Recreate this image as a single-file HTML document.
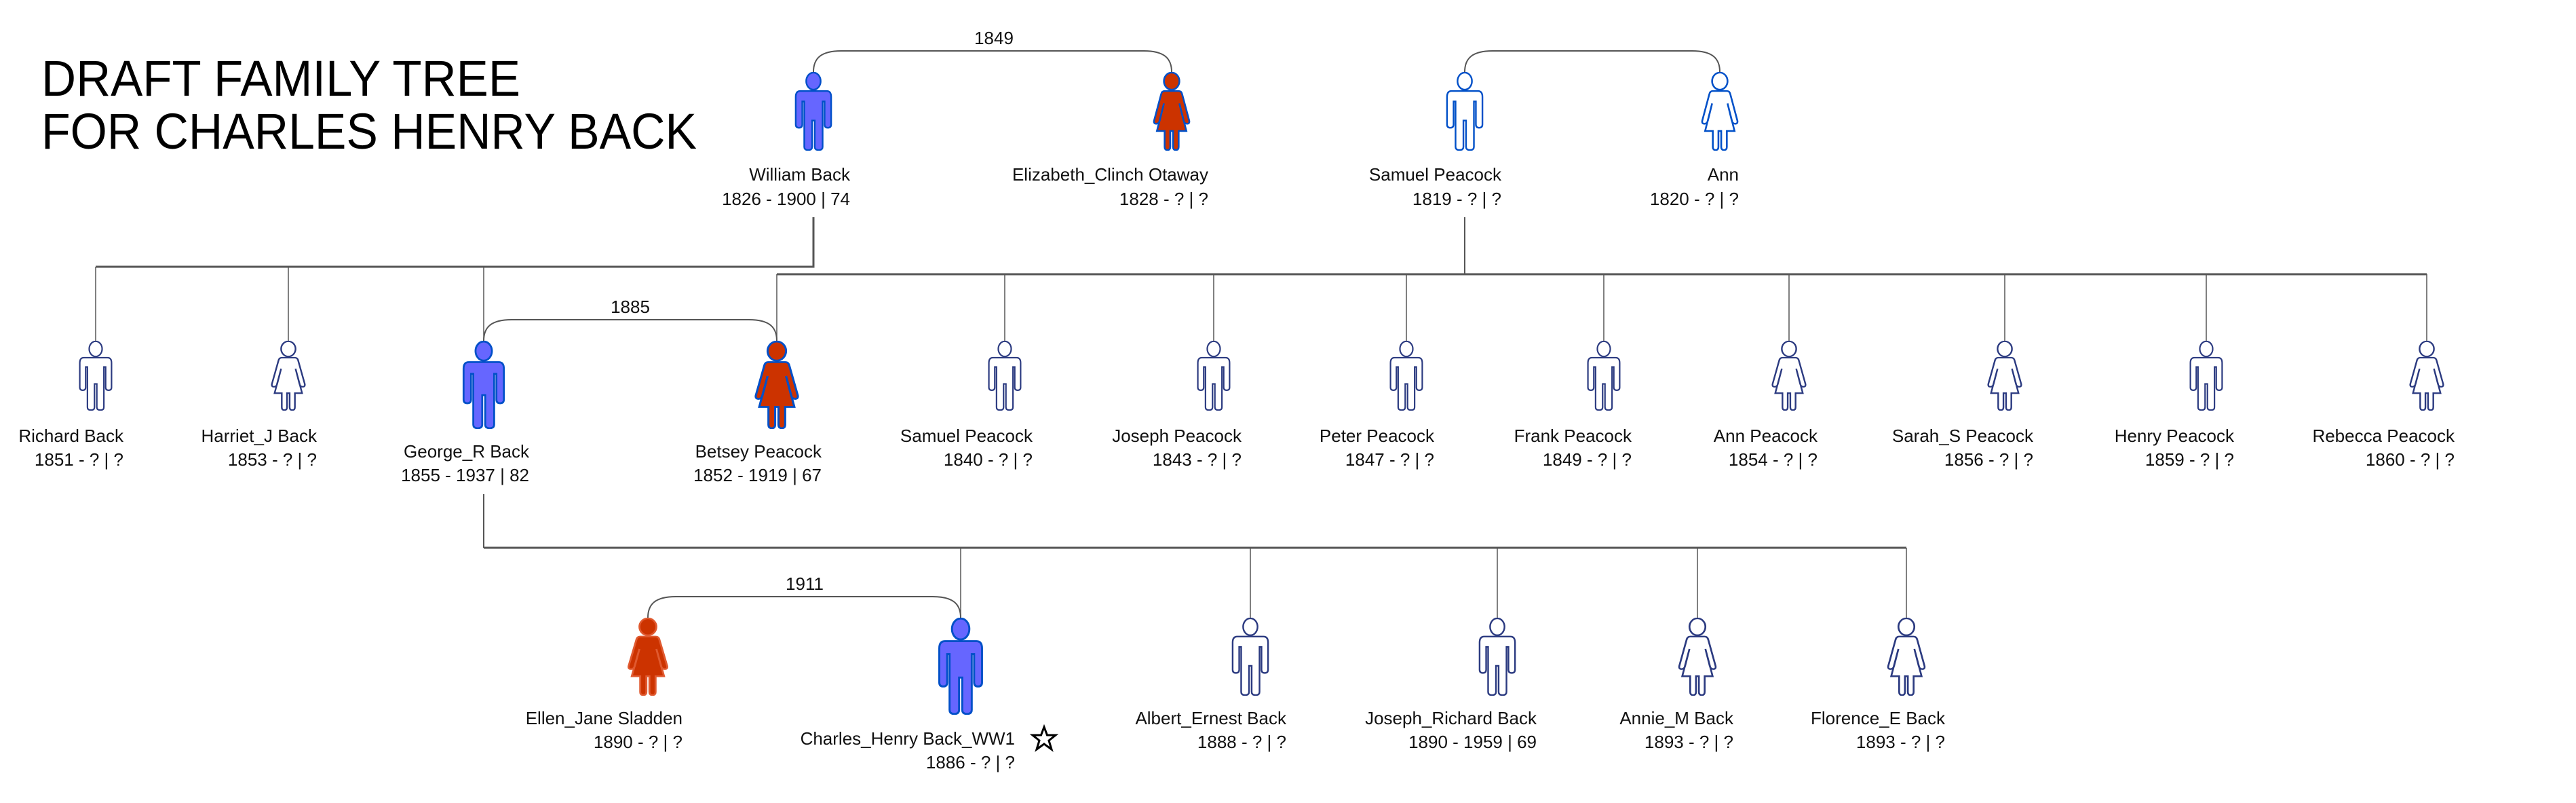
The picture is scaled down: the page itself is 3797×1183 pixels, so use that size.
<!DOCTYPE html>
<html><head><meta charset="utf-8"><style>
html,body{margin:0;padding:0;background:#fff;}
svg{display:block;}
text{font-family:"Liberation Sans",sans-serif;fill:#111;}
</style></head><body>
<svg width="3797" height="1183" viewBox="0 0 3797 1183" xmlns="http://www.w3.org/2000/svg">
<defs>
<symbol id="M" viewBox="0 0 60 120" preserveAspectRatio="none">
<ellipse cx="30" cy="14" rx="11" ry="13"/>
<path d="M10,29 Q3,29 3,38 L3,80 Q3,85 8,85 Q13,85 13,80 L13,45 L16,45 L16,114 Q16,119 22,119 Q28,119 28,114 L28,74 L32,74 L32,114 Q32,119 38,119 Q44,119 44,114 L44,45 L47,45 L47,80 Q47,85 52,85 Q57,85 57,80 L57,38 Q57,29 50,29 Z"/>
</symbol>
<symbol id="F" viewBox="0 0 60 120" preserveAspectRatio="none">
<ellipse cx="30" cy="14" rx="11" ry="13"/>
<path d="M20,29 L40,29 Q44,29 45,34 L55,74 Q56,79 52,79 Q48,79 47,74 L41,48 L51,90 L40,90 L40,114 Q40,119 36,119 Q32,119 32,114 L32,90 L28,90 L28,114 Q28,119 24,119 Q20,119 20,114 L20,90 L9,90 L19,48 L13,74 Q12,79 8,79 Q4,79 5,74 L15,34 Q16,29 20,29 Z"/>
</symbol>
</defs>

<text x="61" y="141" font-size="74" textLength="706" lengthAdjust="spacingAndGlyphs" style="fill:#000">DRAFT FAMILY TREE</text>
<text x="61" y="219" font-size="74" textLength="966" lengthAdjust="spacingAndGlyphs" style="fill:#000">FOR CHARLES HENRY BACK</text>

<g fill="none" stroke="#555" stroke-width="2">
<path d="M1199,106 C1199,86 1210,75 1240,75 L1686,75 C1716,75 1727,86 1727,106"/>
<path d="M2159,106 C2159,86 2170,75 2200,75 L2494,75 C2524,75 2535,86 2535,106"/>
<path d="M713,502 C713,482 724,471 754,471 L1104,471 C1134,471 1145,482 1145,502"/>
<path d="M955,910 C955,890 966,879 996,879 L1375,879 C1405,879 1416,890 1416,910"/>
<path d="M1199,320 L1199,393 L141,393" stroke-width="3"/>
<path d="M2159,320 L2159,404"/>
<path d="M1145,404 L3577,404" stroke-width="3"/>
<path d="M713,728 L713,807"/>
<path d="M713,807 L2810,807" stroke-width="3"/>
</g>
<g stroke="#555" stroke-width="1.5">
<line x1="141" y1="393" x2="141" y2="502"/><line x1="425" y1="393" x2="425" y2="502"/><line x1="713" y1="393" x2="713" y2="502"/>
<line x1="1145" y1="404" x2="1145" y2="502"/><line x1="1481" y1="404" x2="1481" y2="502"/><line x1="1789" y1="404" x2="1789" y2="502"/>
<line x1="2073" y1="404" x2="2073" y2="502"/><line x1="2364" y1="404" x2="2364" y2="502"/><line x1="2637" y1="404" x2="2637" y2="502"/>
<line x1="2955" y1="404" x2="2955" y2="502"/><line x1="3252" y1="404" x2="3252" y2="502"/><line x1="3577" y1="404" x2="3577" y2="502"/>
<line x1="1416" y1="807" x2="1416" y2="910"/><line x1="1843" y1="807" x2="1843" y2="910"/><line x1="2207" y1="807" x2="2207" y2="910"/>
<line x1="2502" y1="807" x2="2502" y2="910"/><line x1="2810" y1="807" x2="2810" y2="910"/>
</g>

<g stroke-width="2.5">
<use href="#M" x="1170" y="106" width="58" height="116" fill="#6666ff" stroke="#0050c8"/>
<use href="#F" x="1696" y="106" width="62" height="116" fill="#cc3300" stroke="#0050c8"/>
<use href="#M" x="2130" y="106" width="58" height="116" fill="#fff" stroke="#0050c8"/>
<use href="#F" x="2504" y="106" width="62" height="116" fill="#fff" stroke="#0050c8"/>
<use href="#M" x="680" y="502" width="66" height="130" fill="#6666ff" stroke="#0050c8"/>
<use href="#F" x="1108" y="502" width="74" height="130" fill="#cc3300" stroke="#0050c8"/>
<use href="#F" x="921" y="910" width="68" height="115" fill="#cc3300" stroke="#e05a30"/>
<use href="#M" x="1381" y="910" width="70" height="143" fill="#6666ff" stroke="#0050c8"/>
</g>
<g fill="#fff" stroke="#2b3a80" stroke-width="2.5">
<use href="#M" x="115" y="502" width="52" height="103"/>
<use href="#F" x="396" y="502" width="58" height="103"/>
<use href="#M" x="1455" y="502" width="52" height="103"/>
<use href="#M" x="1763" y="502" width="52" height="103"/>
<use href="#M" x="2047" y="502" width="52" height="103"/>
<use href="#M" x="2338" y="502" width="52" height="103"/>
<use href="#F" x="2608" y="502" width="58" height="103"/>
<use href="#F" x="2926" y="502" width="58" height="103"/>
<use href="#M" x="3226" y="502" width="52" height="103"/>
<use href="#F" x="3548" y="502" width="58" height="103"/>
<use href="#M" x="1814" y="910" width="58" height="115"/>
<use href="#M" x="2178" y="910" width="58" height="115"/>
<use href="#F" x="2470" y="910" width="64" height="115"/>
<use href="#F" x="2778" y="910" width="64" height="115"/>
</g>

<g font-size="26">
<text x="1465" y="65" text-anchor="middle">1849</text>
<text x="929" y="461" text-anchor="middle">1885</text>
<text x="1186" y="869" text-anchor="middle">1911</text>
</g>

<g font-size="26" text-anchor="end">
<text x="1253" y="266">William Back</text><text x="1253" y="302">1826 - 1900 | 74</text>
<text x="1781" y="266">Elizabeth_Clinch Otaway</text><text x="1781" y="302">1828 - ? | ?</text>
<text x="2213" y="266">Samuel Peacock</text><text x="2213" y="302">1819 - ? | ?</text>
<text x="2563" y="266">Ann</text><text x="2563" y="302">1820 - ? | ?</text>

<text x="182" y="651">Richard Back</text><text x="182" y="686">1851 - ? | ?</text>
<text x="467" y="651">Harriet_J Back</text><text x="467" y="686">1853 - ? | ?</text>
<text x="780" y="674">George_R Back</text><text x="780" y="709">1855 - 1937 | 82</text>
<text x="1211" y="674">Betsey Peacock</text><text x="1211" y="709">1852 - 1919 | 67</text>
<text x="1522" y="651">Samuel Peacock</text><text x="1522" y="686">1840 - ? | ?</text>
<text x="1830" y="651">Joseph Peacock</text><text x="1830" y="686">1843 - ? | ?</text>
<text x="2114" y="651">Peter Peacock</text><text x="2114" y="686">1847 - ? | ?</text>
<text x="2405" y="651">Frank Peacock</text><text x="2405" y="686">1849 - ? | ?</text>
<text x="2679" y="651">Ann Peacock</text><text x="2679" y="686">1854 - ? | ?</text>
<text x="2997" y="651">Sarah_S Peacock</text><text x="2997" y="686">1856 - ? | ?</text>
<text x="3293" y="651">Henry Peacock</text><text x="3293" y="686">1859 - ? | ?</text>
<text x="3618" y="651">Rebecca Peacock</text><text x="3618" y="686">1860 - ? | ?</text>

<text x="1006" y="1067">Ellen_Jane Sladden</text><text x="1006" y="1102">1890 - ? | ?</text>
<text x="1496" y="1097">Charles_Henry Back_WW1</text><text x="1496" y="1132">1886 - ? | ?</text>
<text x="1896" y="1067">Albert_Ernest Back</text><text x="1896" y="1102">1888 - ? | ?</text>
<text x="2265" y="1067">Joseph_Richard Back</text><text x="2265" y="1102">1890 - 1959 | 69</text>
<text x="2555" y="1067">Annie_M Back</text><text x="2555" y="1102">1893 - ? | ?</text>
<text x="2867" y="1067">Florence_E Back</text><text x="2867" y="1102">1893 - ? | ?</text>
</g>

<polygon points="1539,1071 1543.5,1083 1556,1083 1546,1091 1550,1104 1539,1096 1528,1104 1532,1091 1522,1083 1534.5,1083" fill="#fff" stroke="#000" stroke-width="3"/>
</svg>
</body></html>
